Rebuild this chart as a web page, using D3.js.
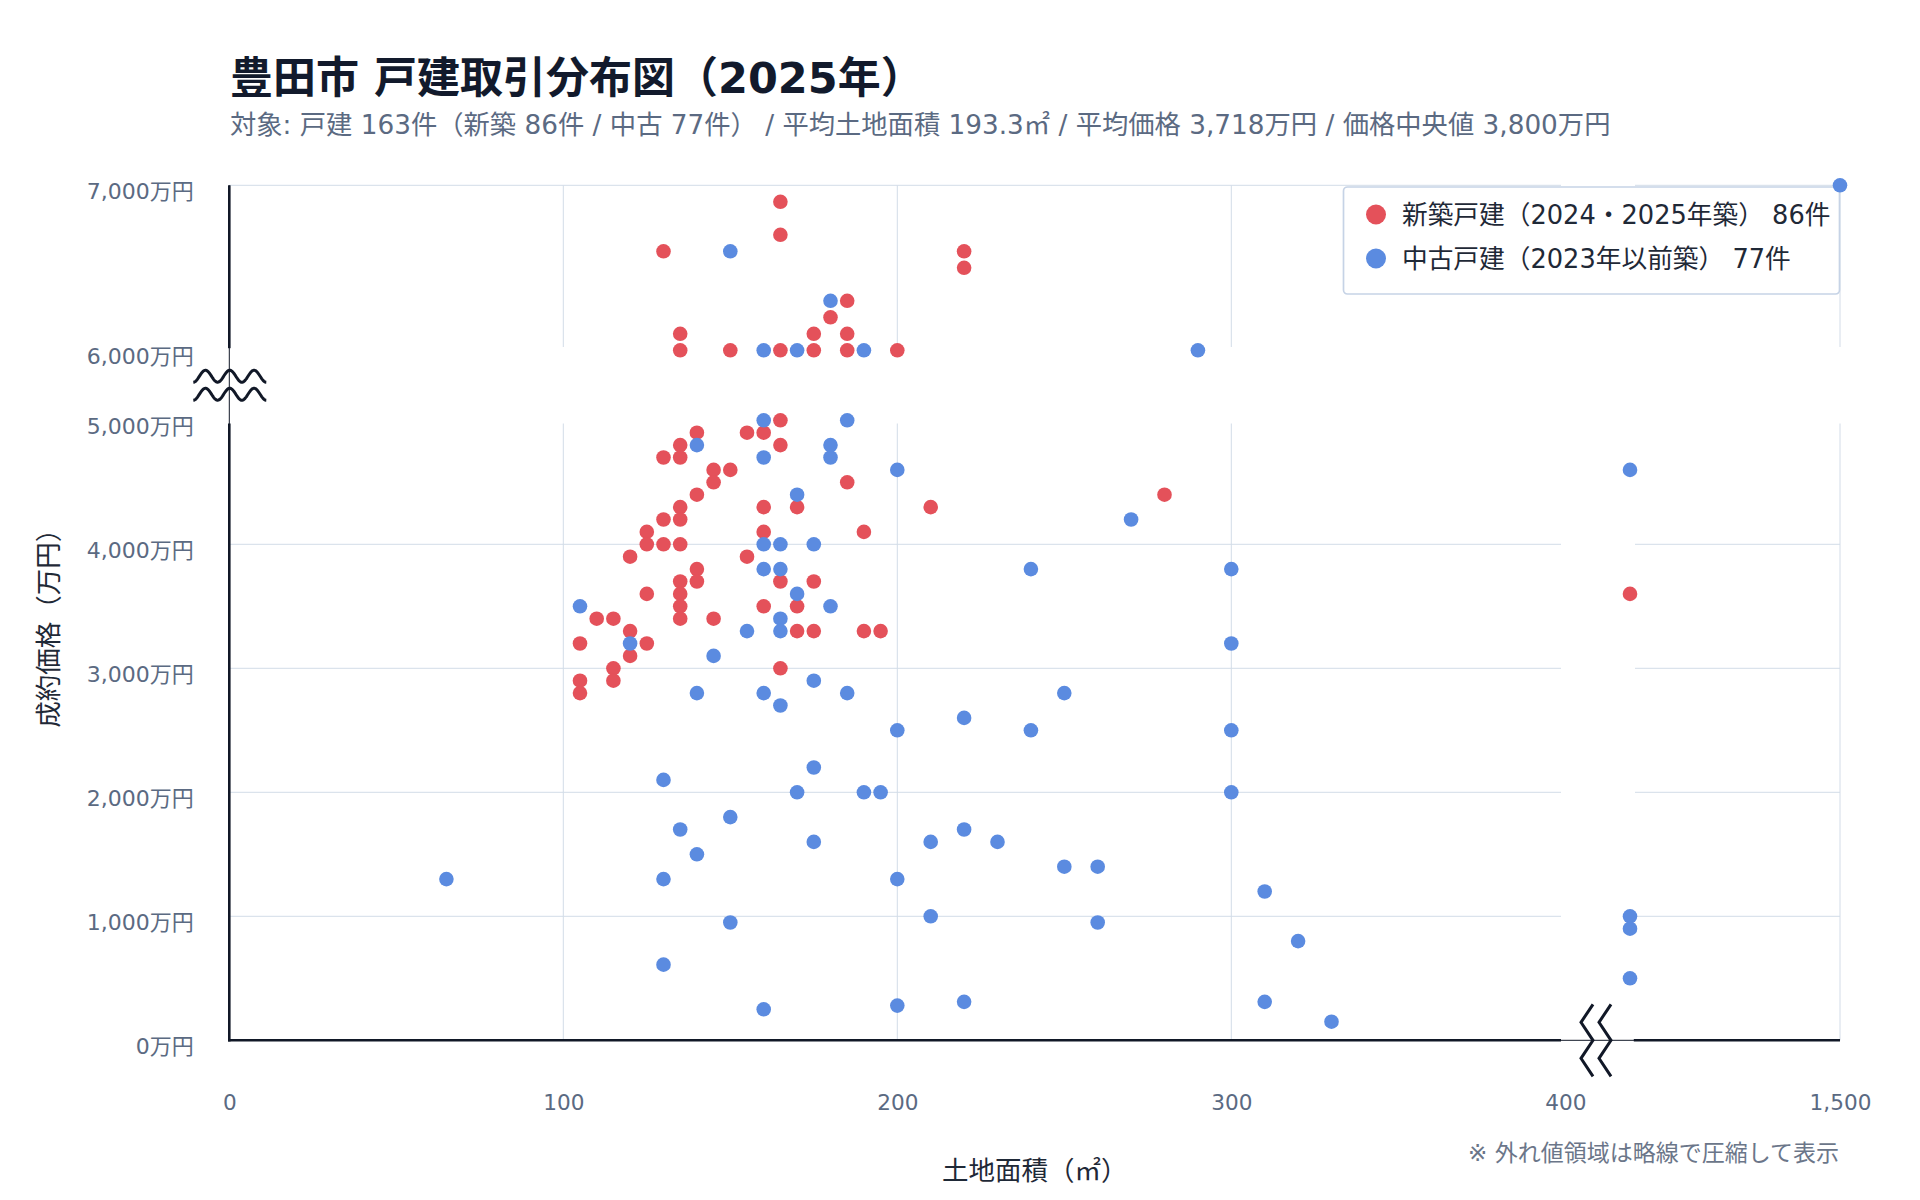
<!DOCTYPE html>
<html>
<head>
<meta charset="utf-8">
<script src="https://cdn.jsdelivr.net/npm/d3@7/dist/d3.min.js"></script>
<style>
  html, body { margin: 0; padding: 0; background: #ffffff; }
  svg { display: block; }
  text { font-family: "DejaVu Sans", "Noto Sans CJK JP", sans-serif; }
</style>
</head>
<body>
<div id="chart"></div>
<script>
// ---------------- data ----------------
const titleText = "豊田市 戸建取引分布図（2025年）";
const subtitleText = "対象: 戸建 163件（新築 86件 / 中古 77件） / 平均土地面積 193.3㎡ / 平均価格 3,718万円 / 価格中央値 3,800万円";
const seriesNames = ["新築戸建（2024・2025年築） 86件", "中古戸建（2023年以前築） 77件"];
const xTicks = [0, 100, 200, 300, 400, 1500];
const yTicks = [0, 1000, 2000, 3000, 4000, 5000, 6000, 7000];
const xTitle = "土地面積（㎡）";
const yTitle = "成約価格（万円）";
const noteText = "※ 外れ値領域は略線で圧縮して表示";

// [土地面積 ㎡, 成約価格 万円]
const newBuild = [
  [165,6900],[165,6700],[130,6600],[220,6600],[220,6500],[185,6300],[180,6200],
  [135,6100],[175,6100],[185,6100],[135,6000],[150,6000],[165,6000],[175,6000],
  [185,6000],[200,6000],
  [165,5000],[140,4900],[155,4900],[160,4900],[135,4800],[165,4800],[130,4700],
  [135,4700],[145,4600],[150,4600],[145,4500],[185,4500],[140,4400],[280,4400],
  [135,4300],[160,4300],[170,4300],[210,4300],[130,4200],[135,4200],[125,4100],
  [160,4100],[190,4100],[125,4000],[130,4000],[135,4000],[120,3900],[155,3900],
  [140,3800],[135,3700],[140,3700],[165,3700],[175,3700],[125,3600],[135,3600],
  [420,3600],[135,3500],[160,3500],[170,3500],[110,3400],[115,3400],[135,3400],
  [145,3400],[120,3300],[170,3300],[175,3300],[190,3300],[195,3300],[105,3200],
  [125,3200],[120,3100],[115,3000],[165,3000],[105,2900],[115,2900],[105,2800]
];
const usedBuild = [
  [1500,7000],[150,6600],[180,6300],[160,6000],[170,6000],[190,6000],[290,6000],
  [160,5000],[185,5000],[140,4800],[180,4800],[160,4700],[180,4700],[200,4600],
  [420,4600],[170,4400],[270,4200],[160,4000],[165,4000],[175,4000],[160,3800],
  [165,3800],[240,3800],[300,3800],[170,3600],[105,3500],[180,3500],[165,3400],
  [155,3300],[165,3300],[120,3200],[300,3200],[145,3100],[175,2900],[140,2800],
  [160,2800],[185,2800],[250,2800],[165,2700],[220,2600],[200,2500],[240,2500],
  [300,2500],[175,2200],[130,2100],[170,2000],[190,2000],[195,2000],[300,2000],
  [150,1800],[135,1700],[220,1700],[175,1600],[210,1600],[230,1600],[140,1500],
  [250,1400],[260,1400],[65,1300],[130,1300],[200,1300],[310,1200],[210,1000],
  [420,1000],[150,950],[260,950],[420,900],[320,800],[130,610],[420,500],
  [220,310],[310,310],[200,280],[160,250],[330,150]
];

// ---------------- layout ----------------
const W = 1920, H = 1200;
const colors = { newBuild: "#e4515a", used: "#5b8be0" };

// broken axes: piecewise-linear scales
const x = d3.scaleLinear().domain([0, 400, 420, 1500]).range([229.3, 1565.3, 1630, 1840]);
const y = d3.scaleLinear().domain([0, 5000, 6000, 7000]).range([1040.3, 420.3, 350.3, 185.3]);

const xPanels = [[229.3, 1561], [1635, 1840]];
const yPanels = [[185.3, 347], [423.5, 1040.3]];

const svg = d3.select("#chart").append("svg")
  .attr("width", W).attr("height", H).attr("viewBox", `0 0 ${W} ${H}`);

svg.append("rect").attr("width", W).attr("height", H).attr("fill", "#ffffff");

// title & subtitle
svg.append("text").attr("x", 230).attr("y", 93)
  .attr("font-size", 43).attr("font-weight", "bold").attr("fill", "#121a2c")
  .text(titleText);
svg.append("text").attr("x", 230).attr("y", 134)
  .attr("font-size", 26.3).attr("fill", "#5b6a82")
  .text(subtitleText);

// gridlines
const grid = svg.append("g").attr("stroke", "#d3dce8").attr("stroke-width", 1);
const inside = (v, [a, b]) => v >= a - 0.5 && v <= b + 0.5;
yTicks.filter(d => d > 0).forEach(d => {
  const py = y(d);
  yPanels.forEach(yp => {
    if (!inside(py, yp)) return;
    xPanels.forEach(([x0, x1]) => {
      grid.append("line").attr("x1", x0).attr("x2", x1).attr("y1", py).attr("y2", py);
    });
  });
});
xTicks.filter(d => d > 0).forEach(d => {
  const px = x(d);
  xPanels.forEach(xp => {
    if (!inside(px, xp)) return;
    yPanels.forEach(([y0, y1]) => {
      grid.append("line").attr("x1", px).attr("x2", px).attr("y1", y0).attr("y2", y1);
    });
  });
});

// axes (labels via d3 axes)
const yAxis = svg.append("g").attr("transform", `translate(${x(0)},0)`)
  .call(d3.axisLeft(y).tickValues(yTicks).tickSize(0).tickPadding(35.5)
    .tickFormat(d => d3.format(",")(d) + "万円"));
yAxis.select(".domain").remove();
yAxis.selectAll("text").attr("dy", null).attr("y", 13)
  .attr("font-size", 22).attr("fill", "#5b6a82")
  .style("font-family", '"DejaVu Sans", "Noto Sans CJK JP", sans-serif');

const xAxis = svg.append("g").attr("transform", `translate(0,${y(0)})`)
  .call(d3.axisBottom(x).tickValues(xTicks).tickSize(0).tickFormat(d3.format(",")));
xAxis.select(".domain").remove();
xAxis.selectAll("text").attr("dy", null).attr("y", 70)
  .attr("font-size", 21.6).attr("fill", "#5b6a82")
  .style("font-family", '"DejaVu Sans", "Noto Sans CJK JP", sans-serif');

// axis lines (thin through breaks, thick on panels)
const axisCol = "#111827";
svg.append("line").attr("x1", x(0)).attr("x2", x(0)).attr("y1", yPanels[0][0]).attr("y2", yPanels[1][1])
  .attr("stroke", axisCol).attr("stroke-width", 1);
svg.append("line").attr("x1", xPanels[0][0]).attr("x2", xPanels[1][1]).attr("y1", y(0)).attr("y2", y(0))
  .attr("stroke", axisCol).attr("stroke-width", 1);
yPanels.forEach(([a, b]) => {
  svg.append("line").attr("x1", x(0)).attr("x2", x(0)).attr("y1", a).attr("y2", b + 1.2)
    .attr("stroke", axisCol).attr("stroke-width", 2.6);
});
xPanels.forEach(([a, b]) => {
  svg.append("line").attr("x1", a - 1.2).attr("x2", b).attr("y1", y(0)).attr("y2", y(0))
    .attr("stroke", axisCol).attr("stroke-width", 2.6);
});

// break symbols
const waveLine = d3.line().curve(d3.curveLinear);
const yBreakMid = (yPanels[0][1] + yPanels[1][0]) / 2;
[-9, 9].forEach(off => {
  const pts = d3.range(0, 73.01, 0.5).map(t => [x(0) - 36 + t, yBreakMid + off + 6 * Math.cos(2 * Math.PI * t / 24.3)]);
  svg.append("path").attr("d", waveLine(pts)).attr("fill", "none")
    .attr("stroke", axisCol).attr("stroke-width", 3);
});
const xBreakMid = (xPanels[0][1] + xPanels[1][0]) / 2;
[-9, 9].forEach(off => {
  const cx = xBreakMid - 2 + off;
  const pts = [[cx + 6, y(0) - 36], [cx - 6, y(0) - 18], [cx + 6, y(0)], [cx - 6, y(0) + 18], [cx + 6, y(0) + 36]];
  svg.append("path").attr("d", waveLine(pts)).attr("fill", "none")
    .attr("stroke", axisCol).attr("stroke-width", 3);
});

// axis titles
svg.append("text").attr("transform", `translate(58,${(yPanels[0][0] + yPanels[1][1]) / 2 + 9}) rotate(-90)`)
  .attr("text-anchor", "middle").attr("font-size", 26.5).attr("fill", "#1f2937")
  .text(yTitle);
svg.append("text").attr("x", (xPanels[0][0] + xPanels[1][1]) / 2).attr("y", 1180)
  .attr("text-anchor", "middle").attr("font-size", 26.5).attr("fill", "#1f2937")
  .text(xTitle);
svg.append("text").attr("x", 1839).attr("y", 1161)
  .attr("text-anchor", "end").attr("font-size", 23).attr("fill", "#6b7689")
  .text(noteText);

// legend
const lg = svg.append("g");
lg.append("rect").attr("x", 1343.5).attr("y", 187).attr("width", 496).attr("height", 107)
  .attr("rx", 4).attr("fill", "#ffffff").attr("stroke", "#c6d3e6").attr("stroke-width", 1.7);
[[seriesNames[0], colors.newBuild, 214.5], [seriesNames[1], colors.used, 258.5]].forEach(([name, col, ly]) => {
  lg.append("circle").attr("cx", 1376).attr("cy", ly).attr("r", 10).attr("fill", col);
  lg.append("text").attr("x", 1402).attr("y", ly + 9).attr("font-size", 25.7).attr("fill", "#1f2937").text(name);
});

// points
svg.append("g").selectAll("circle").data(newBuild).join("circle")
  .attr("cx", d => x(d[0])).attr("cy", d => y(d[1])).attr("r", 7.3).attr("fill", colors.newBuild);
svg.append("g").selectAll("circle").data(usedBuild).join("circle")
  .attr("cx", d => x(d[0])).attr("cy", d => y(d[1])).attr("r", 7.3).attr("fill", colors.used);
</script>
</body>
</html>
